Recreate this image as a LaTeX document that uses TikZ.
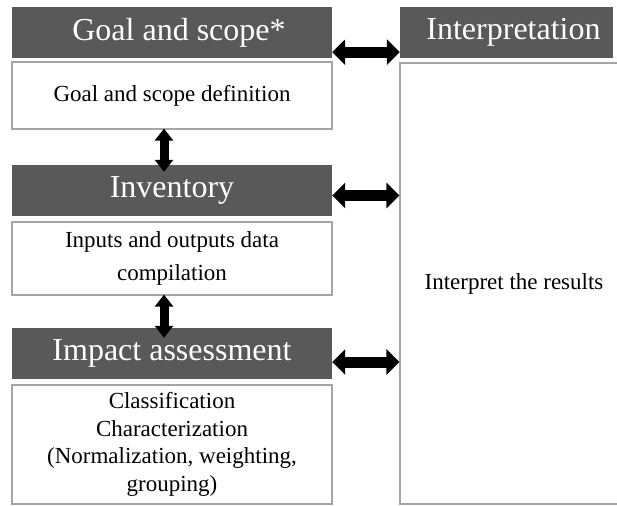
\documentclass[tikz,border=0pt]{standalone}
\usepackage{fontspec}
\setmainfont{Liberation Serif}
\usetikzlibrary{arrows.meta,calc}
\definecolor{hdrgray}{RGB}{89,89,89}
\definecolor{brdgray}{RGB}{165,165,165}
\begin{document}
\begin{tikzpicture}[x=1pt,y=-1pt,
  hdr/.style={fill=hdrgray,text=white,inner sep=0pt,minimum height=51pt,font=\fontsize{32}{36}\selectfont},
  box/.style={draw=brdgray,line width=1.3pt,fill=white,inner sep=0pt,align=center,font=\fontsize{23}{27.5}\selectfont},
  harrow/.style={line width=11pt,{Triangle[width=25pt,length=13pt]}-{Triangle[width=25pt,length=13pt]}},
  varrow/.style={line width=9pt,{Triangle[width=18pt,length=12pt]}-{Triangle[width=18pt,length=12pt]}}]
\useasboundingbox (0,0) rectangle (617,505);
\fill[white] (0,0) rectangle (617,505);
% left column
\node[hdr,minimum width=320pt] (goal) at (172,32.5) {\hspace*{14pt}Goal and scope*};
\node[box,minimum width=320pt,minimum height=67pt] (def) at (172,95.5) {Goal and scope definition};
\node[hdr,minimum width=320pt] (inv) at (172,190.5) {Inventory};
\node[box,minimum width=320pt,minimum height=73pt,font=\fontsize{23}{33}\selectfont] (io) at (172,258.5) {Inputs and outputs data\\compilation};
\node[hdr,minimum width=320pt] (imp) at (172,353.5) {Impact assessment};
\node[box,minimum width=320pt,minimum height=119pt] (cls) at (172,444.5) {Classification\\Characterization\\(Normalization, weighting,\\grouping)};
% right column
\node[hdr,minimum width=213pt] (interp) at (506.5,32.5) {\hspace*{14pt}Interpretation};
\node[box,minimum width=218pt,minimum height=441pt] (ibox) at (509,283.5) {\hspace*{10pt}Interpret the results};
% vertical arrows
\draw[varrow] ([xshift=-8pt,yshift=1pt]def.south) -- ([xshift=-8pt,yshift=-7pt]inv.north);
\draw[varrow] ([xshift=-8pt,yshift=1pt]io.south) -- ([xshift=-8pt,yshift=-10pt]imp.north);
% horizontal arrows
\draw[harrow] ([yshift=6pt]goal.south east) -- ([yshift=6pt]interp.south west);
\draw[harrow] ($(inv.east)+(0,5)$) -- ($(inv.east -| ibox.west)+(0,5)$);
\draw[harrow] ($(imp.east)+(0,8.5)$) -- ($(imp.east -| ibox.west)+(0,8.5)$);
\end{tikzpicture}
\end{document}
